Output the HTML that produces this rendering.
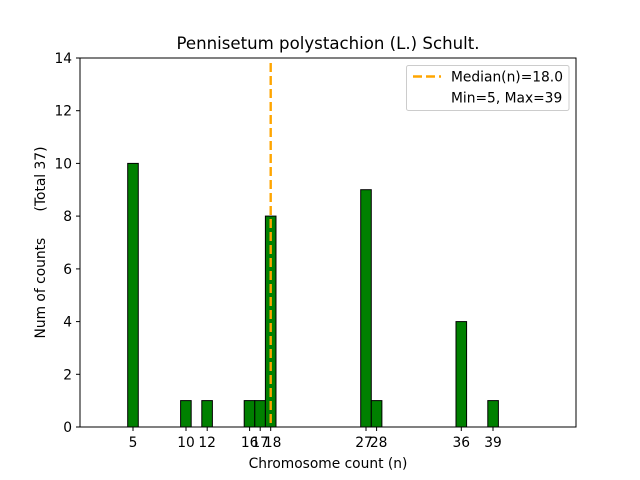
<!DOCTYPE html>
<html><head><style>body{margin:0;background:#fff}svg{display:block}text{font-family:"DejaVu Sans","Liberation Sans",sans-serif;fill:#000}</style></head><body>
<svg width="640" height="480" xmlns="http://www.w3.org/2000/svg">
<rect width="640" height="480" fill="#fff"/>
<text x="328" y="49" font-size="16.6" text-anchor="middle">Pennisetum polystachion (L.) Schult.</text>
<g fill="#008000" stroke="#000" stroke-width="1">
<rect x="127.7" y="163.4" width="10.59" height="263.6"/>
<rect x="180.6" y="400.6" width="10.59" height="26.4"/>
<rect x="201.8" y="400.6" width="10.59" height="26.4"/>
<rect x="244.2" y="400.6" width="10.59" height="26.4"/>
<rect x="254.8" y="400.6" width="10.59" height="26.4"/>
<rect x="265.4" y="216.1" width="10.59" height="210.9"/>
<rect x="360.7" y="189.7" width="10.59" height="237.3"/>
<rect x="371.3" y="400.6" width="10.59" height="26.4"/>
<rect x="456.0" y="321.6" width="10.59" height="105.4"/>
<rect x="487.8" y="400.6" width="10.59" height="26.4"/>
</g>
<line x1="270.7" y1="63" x2="270.7" y2="427" stroke="#FFA500" stroke-width="2.4" stroke-dasharray="9,4"/>
<rect x="80" y="58" width="496" height="369" fill="none" stroke="#000" stroke-width="1"/>
<g stroke="#000">
<line x1="133" y1="427" x2="133" y2="431"/><line x1="186" y1="427" x2="186" y2="431"/><line x1="207.2" y1="427" x2="207.2" y2="431"/><line x1="249.6" y1="427" x2="249.6" y2="431"/><line x1="260.2" y1="427" x2="260.2" y2="431"/><line x1="270.7" y1="427" x2="270.7" y2="431"/><line x1="366" y1="427" x2="366" y2="431"/><line x1="376.6" y1="427" x2="376.6" y2="431"/><line x1="461.3" y1="427" x2="461.3" y2="431"/><line x1="493" y1="427" x2="493" y2="431"/>
<line x1="76" y1="427" x2="80" y2="427"/><line x1="76" y1="374.3" x2="80" y2="374.3"/><line x1="76" y1="321.6" x2="80" y2="321.6"/><line x1="76" y1="268.9" x2="80" y2="268.9"/><line x1="76" y1="216.1" x2="80" y2="216.1"/><line x1="76" y1="163.4" x2="80" y2="163.4"/><line x1="76" y1="110.7" x2="80" y2="110.7"/><line x1="76" y1="58" x2="80" y2="58"/>
</g>
<g font-size="13.8" text-anchor="middle">
<text x="133" y="447">5</text><text x="186" y="447">10</text><text x="207.2" y="447">12</text><text x="249.6" y="447">16</text><text x="260.2" y="447">17</text><text x="272.7" y="447">18</text><text x="364" y="447">27</text><text x="378.6" y="447">28</text><text x="461.3" y="447">36</text><text x="493" y="447">39</text>
</g>
<g font-size="13.8" text-anchor="end">
<text x="72" y="432">0</text><text x="72" y="379.3">2</text><text x="72" y="326.6">4</text><text x="72" y="273.9">6</text><text x="72" y="221.1">8</text><text x="72" y="168.4">10</text><text x="72" y="115.7">12</text><text x="72" y="63">14</text>
</g>
<text x="328" y="468" font-size="13.8" text-anchor="middle">Chromosome count (n)</text>
<text transform="translate(45,242.5) rotate(-90)" font-size="13.8" text-anchor="middle" xml:space="preserve">Num of counts      (Total 37)</text>
<rect x="406.5" y="65.5" width="162.5" height="45" rx="2" fill="#fff" stroke="#ccc" stroke-width="1"/>
<line x1="413" y1="76.5" x2="441" y2="76.5" stroke="#FFA500" stroke-width="2.4" stroke-dasharray="9,4"/>
<text x="451" y="81.5" font-size="13.8">Median(n)=18.0</text>
<text x="451" y="102.5" font-size="13.8">Min=5, Max=39</text>
</svg>
</body></html>
